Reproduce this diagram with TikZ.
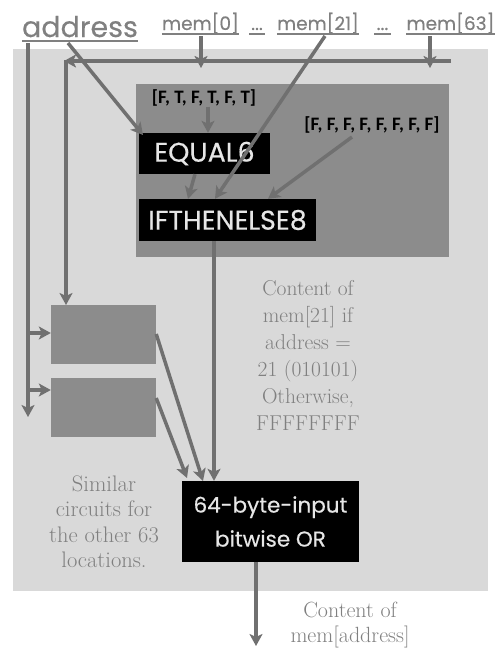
\documentclass[tikz,border=0pt]{standalone}
\usepackage{fontspec}
\newfontfamily\futfont[FakeBold=0.4]{Poppins}
\newfontfamily\calfont{Carlito}
\usetikzlibrary{arrows.meta}
\definecolor{bglight}{RGB}{217,217,217}
\definecolor{bgdark}{RGB}{140,140,140}
\definecolor{linec}{RGB}{112,112,112}
\definecolor{textg}{RGB}{128,128,128}
\definecolor{boxtext}{RGB}{230,230,230}
\tikzset{
  arr/.style={draw=linec, line width=3.5pt, -{Stealth[length=12pt,width=13pt,inset=3pt]}},
  ul/.style={draw=textg, line width=1.8pt},
  blackbox/.style={fill=black, text=boxtext, inner sep=0pt, align=center},
  graybox/.style={fill=bgdark, inner sep=0pt},
  serif/.style={text=textg, align=center, inner sep=0pt},
  brk/.style={text=black, inner sep=0pt, font=\calfont\bfseries\fontsize{19}{22}\selectfont},
  memlab/.style={text=textg, inner sep=0pt, anchor=base, font=\futfont\fontsize{18.5}{20}\selectfont},
}
\begin{document}
\begin{tikzpicture}[x=1pt,y=-1pt]
\useasboundingbox (0,0) rectangle (500,648);
% backgrounds
\fill[bglight] (13,49) rectangle (488,591);
\fill[bgdark] (136,84) rectangle (449,257);
% texts on top
\node[text=textg, inner sep=0pt, anchor=base, font=\futfont\fontsize{28.5}{30}\selectfont] (addr) at (80,37) {address};
\draw[ul] (22,41) -- (138,41);
\node[memlab] (m0) at (200.5,30) {mem[0]};
\node[memlab] (d1) at (257,30) {...};
\node[memlab] (m21) at (318,30) {mem[21]};
\node[memlab] (d2) at (382.5,30) {...};
\node[memlab] (m63) at (450.5,30) {mem[63]};
\draw[ul] (m0.west |- 0,34) -- (m0.east |- 0,34);
\draw[ul] (249,34) -- (265,34);
\draw[ul] (m21.west |- 0,34) -- (m21.east |- 0,34);
\draw[ul] (374,34) -- (391,34);
\draw[ul] (m63.west |- 0,34) -- (m63.east |- 0,34);
% boxes
\node[blackbox, minimum width=131pt, minimum height=41pt, font=\futfont\fontsize{27}{30}\selectfont] (eq) at (204.5,153.5) {EQUAL6};
\node[blackbox, minimum width=177pt, minimum height=42pt, font=\futfont\fontsize{27}{30}\selectfont] (ite) at (227.5,220) {IFTHENELSE8};
\node[blackbox, minimum width=177pt, minimum height=81pt, font=\futfont\fontsize{21.5}{34}\selectfont] (or) at (270.5,521.5) {64-byte-input\\bitwise OR};
\node[graybox, minimum width=105pt, minimum height=59pt] (b1) at (103.5,334.5) {};
\node[graybox, minimum width=105pt, minimum height=59pt] (b2) at (103.5,407.5) {};
\node[brk] (k1) at (204,98) {[F, T, F, T, F, T]};
\node[brk] (k2) at (372,125) {[F, F, F, F, F, F, F, F]};
\node[serif, font=\fontsize{21.5}{27}\selectfont] (c1) at (308,355.5) {Content of\\mem[21] if\\address =\\21 (010101)\\Otherwise,\\FFFFFFFF};
\node[serif, font=\fontsize{22.5}{25.5}\selectfont] (c2) at (104,521.5) {Similar\\circuits for\\the other 63\\locations.};
\node[serif, font=\fontsize{22}{25}\selectfont] (c3) at (350,625.5) {Content of\\mem[address]};
% coordinates
\coordinate (aTop) at (28,43);
\coordinate (aBot) at (28,417);
\coordinate (busR) at (451,61);
\coordinate (busL) at (64,61);
\coordinate (corner) at (66,59.5);
\coordinate (b1top) at (66,305);
\coordinate (diagS) at (68,43);
% connectors
\draw[arr] (aTop) -- (aBot);
\draw[arr] (28,333) -- (b1.west |- 0,333);
\draw[arr] (26,390) -- (b2.west |- 0,390);
\draw[arr] (busR) -- (busL);
\draw[arr] (corner) -- (b1top);
\draw[arr] (201,36) -- (201,68);
\draw[arr] (430,36) -- (430,68);
\draw[arr] (k1.south -| 208,0) -- (eq.north -| 208,0);
\draw[arr] (eq.south -| 195,0) -- (ite.north -| 188,0);
\draw[arr] (diagS) -- (143,135);
\draw[arr] (325,36) -- (ite.north -| 215,0);
\draw[arr] (352,137) -- (ite.north -| 268,0);
\draw[arr] (ite.south -| 214,0) -- (or.north -| 214,0);
\draw[arr] (b1.east |- 0,334) -- (203,481);
\draw[arr] (b2.east |- 0,398) -- (187,478);
\draw[arr] (or.south -| 256,0) -- (256,646);
\end{tikzpicture}
\end{document}
